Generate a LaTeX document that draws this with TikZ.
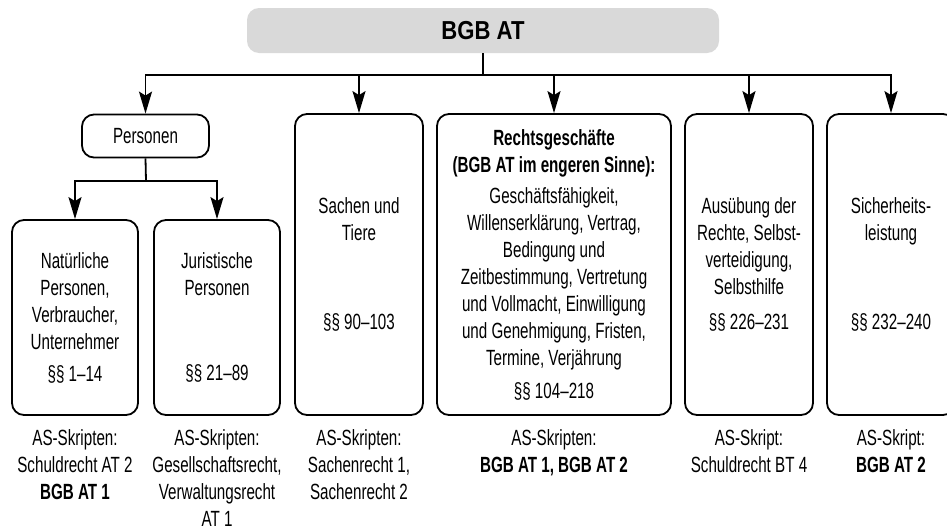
\documentclass[tikz,border=0pt]{standalone}
\usepackage{fontspec}
\setmainfont{Liberation Sans}[FakeStretch=0.69]
\newfontfamily\headfont{Liberation Sans}[FakeStretch=0.85]
\usetikzlibrary{arrows.meta}

\tikzset{
  box/.style={draw, line width=1.8pt, rounded corners=12pt, align=center, inner sep=0pt},
  conn/.style={line width=1.8pt, line cap=rect},
  arr/.style={line width=1.8pt, -{Stealth[length=22pt, width=13pt, inset=4pt]}},
  skript/.style={anchor=north, align=center, inner sep=0pt},
}

\begin{document}
\begin{tikzpicture}[x=1pt, y=-1pt, font=\fontsize{22}{27}\selectfont]
    \useasboundingbox (0,0) rectangle (947,530);

    % Kopf
    \node[fill=black!15, rounded corners=12pt, minimum width=472pt, minimum height=45pt,
          font=\headfont\fontsize{26}{30}\selectfont\bfseries] (bgb) at (483,30.5) {BGB AT};

    % Kaesten
    \node[box, minimum width=127pt, minimum height=43pt] (personen) at (145.5,136) {Personen};
    \node[box, minimum width=126pt, minimum height=195pt] (natuerlich) at (75,317.5)
        {Natürliche\\Personen,\\Verbraucher,\\Unternehmer\\[5pt]§§ 1–14};
    \node[box, minimum width=126pt, minimum height=195pt] (juristisch) at (217,317.5)
        {Juristische\\Personen\\[58pt]§§ 21–89};
    \node[box, minimum width=128pt, minimum height=301pt] (sachen) at (359,264.5)
        {Sachen und\\Tiere\\[62pt]§§ 90–103};
    \node[box, minimum width=234pt, minimum height=301pt] (rechts) at (554,264.5)
        {\textbf{Rechtsgeschäfte}\\\textbf{(BGB AT im engeren Sinne):}\\[4pt]Geschäftsfähigkeit,\\Willenserklärung, Vertrag,\\Bedingung und\\Zeitbestimmung, Vertretung\\und Vollmacht, Einwilligung\\und Genehmigung, Fristen,\\Termine, Verjährung\\[6pt]§§ 104–218};
    \node[box, minimum width=128pt, minimum height=301pt] (ausuebung) at (749,264.5)
        {Ausübung der\\Rechte, Selbst-\\verteidigung,\\Selbsthilfe\\[8pt]§§ 226–231};
    \node[box, minimum width=128pt, minimum height=301pt] (sicherheit) at (891,264.5)
        {Sicherheits-\\leistung\\[62pt]§§ 232–240};

    % Verbindungen oben
    \coordinate (bus) at (483,75);
    \draw[line width=1.8pt] (bgb.south) -- (bus);
    \draw[conn] (personen.north |- bus) -- (sicherheit.north |- bus);
    \foreach \n in {personen,sachen,rechts,ausuebung,sicherheit}
        \draw[arr] (\n.north |- bus) -- (\n.north);

    % Verbindungen Personen
    \coordinate (teil) at (146,181);
    \draw[line width=1.8pt] (personen.south) -- (teil);
    \draw[conn] (natuerlich.north |- teil) -- (juristisch.north |- teil);
    \foreach \n in {natuerlich,juristisch}
        \draw[arr] (\n.north |- teil) -- (\n.north);

    % AS-Skripten
    \path (natuerlich.south) ++(0,13) node[skript] (s1) {AS-Skripten:\\Schuldrecht AT 2\\\textbf{BGB AT 1}};
    \path (juristisch.south) ++(0,13) node[skript] (s2) {AS-Skripten:\\Gesellschaftsrecht,\\Verwaltungsrecht\\AT 1};
    \path (sachen.south) ++(0,13) node[skript] (s3) {AS-Skripten:\\Sachenrecht 1,\\Sachenrecht 2};
    \path (rechts.south) ++(0,13) node[skript] (s4) {AS-Skripten:\\\textbf{BGB AT 1, BGB AT 2}};
    \path (ausuebung.south) ++(0,13) node[skript] (s5) {AS-Skript:\\Schuldrecht BT 4};
    \path (sicherheit.south) ++(0,13) node[skript] (s6) {AS-Skript:\\\textbf{BGB AT 2}};
\end{tikzpicture}
\end{document}
